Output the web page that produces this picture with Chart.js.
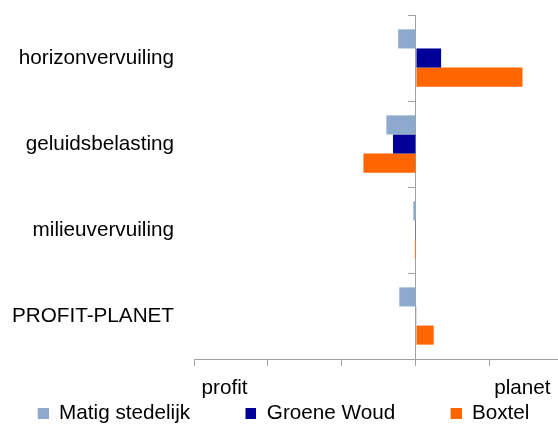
<!DOCTYPE html>
<html>
<head>
<meta charset="utf-8">
<script src="https://cdn.jsdelivr.net/npm/chart.js@4/dist/chart.umd.min.js"></script>
<style>
  html, body { margin: 0; padding: 0; background: #fff; overflow: hidden; }
  #wrap { width: 558px; height: 429px; }
</style>
</head>
<body>
<div id="wrap"><canvas id="c" width="558" height="429"></canvas></div>
<script>
// ---- data ----
const categories = ['horizonvervuiling', 'geluidsbelasting', 'milieuvervuiling', 'PROFIT-PLANET'];
const seriesNames = ['Matig stedelijk', 'Groene Woud', 'Boxtel'];
const matigStedelijk = [-0.24, -0.40, -0.035, -0.225];
const groeneWoud = [0.34, -0.31, -0.01, 0.005];
const boxtel = [1.44, -0.71, -0.015, 0.24];
const xWords = ['profit', 'planet'];
const xMin = -3, xMax = 1.92, xStep = 1;

// ---- style ----
const colors = ['#8DAACD', '#000099', '#FF6600'];
const axisGrey = '#A0A0A0';
const FONT = '"Liberation Sans", Arial, sans-serif';
const FS = 20.7;
Chart.defaults.font.family = FONT;
Chart.defaults.font.size = FS;
Chart.defaults.color = '#000';

// legend markers: square at the right end of a wider transparent strip
const MARK_W = 56, MARK = 11;
const markers = colors.map(c => {
  const cv = document.createElement('canvas');
  cv.width = MARK_W; cv.height = MARK;
  const g = cv.getContext('2d');
  g.fillStyle = c;
  g.fillRect(MARK_W - MARK, 0, MARK, MARK);
  return cv;
});

const axisWords = {
  id: 'axisWords',
  afterDraw(chart) {
    const { ctx, chartArea, scales } = chart;
    const y = scales.x.top + 35.3;
    ctx.save();
    ctx.font = FS + 'px ' + FONT;
    ctx.fillStyle = '#000';
    ctx.textBaseline = 'alphabetic';
    ctx.textAlign = 'left';
    ctx.fillText(xWords[0], chartArea.left + 7.5, y);
    ctx.textAlign = 'right';
    ctx.fillText(xWords[1], chartArea.right - 7.5, y);
    ctx.restore();
  }
};

const seriesValues = [matigStedelijk, groeneWoud, boxtel];

new Chart(document.getElementById('c'), {
  type: 'bar',
  data: {
    labels: categories,
    datasets: seriesNames.map((name, i) => ({
      label: name,
      data: seriesValues[i],
      backgroundColor: colors[i],
      borderWidth: 0,
      categoryPercentage: 0.666,
      barPercentage: 1.0,
      yAxisID: 'y'
    }))
  },
  options: {
    indexAxis: 'y',
    responsive: false,
    animation: false,
    layout: { padding: { top: 15, left: -17.65, right: 0, bottom: 0 } },
    scales: {
      x: {
        type: 'linear',
        min: xMin, max: xMax,
        ticks: { display: false, stepSize: xStep, includeBounds: false },
        grid: { display: true, drawOnChartArea: false, drawTicks: true, tickLength: 7, color: axisGrey, lineWidth: 1 },
        border: { display: true, color: axisGrey, width: 1 },
        afterFit(scale) { scale.height = 33.8; }
      },
      y: {
        type: 'category',
        position: 'left',
        offset: true,
        ticks: { padding: 0, color: '#000', font: { size: FS } },
        grid: { display: true, drawOnChartArea: false, drawTicks: true, tickLength: 20, color: 'rgba(0,0,0,0)', offset: true },
        border: { display: false },
        afterFit(scale) { scale.width = 211.65; }
      },
      y2: {
        type: 'category',
        axis: 'y',
        position: { x: 0 },
        offset: true,
        ticks: { display: false },
        grid: { display: true, drawOnChartArea: false, drawTicks: true, tickLength: 7, color: axisGrey, offset: true },
        border: { display: true, color: axisGrey, width: 1 }
      }
    },
    plugins: {
      tooltip: { enabled: false },
      legend: {
        position: 'bottom',
        align: 'start',
        maxHeight: 36.2,
        labels: {
          usePointStyle: true,
          pointStyleWidth: MARK_W,
          padding: 10.35,
          color: '#000',
          font: { size: FS },
          generateLabels(chart) {
            const items = Chart.defaults.plugins.legend.labels.generateLabels(chart);
            return items.map((it, i) => Object.assign(it, { pointStyle: markers[i], lineWidth: 0 }));
          }
        }
      }
    }
  },
  plugins: [axisWords]
});
</script>
</body>
</html>
